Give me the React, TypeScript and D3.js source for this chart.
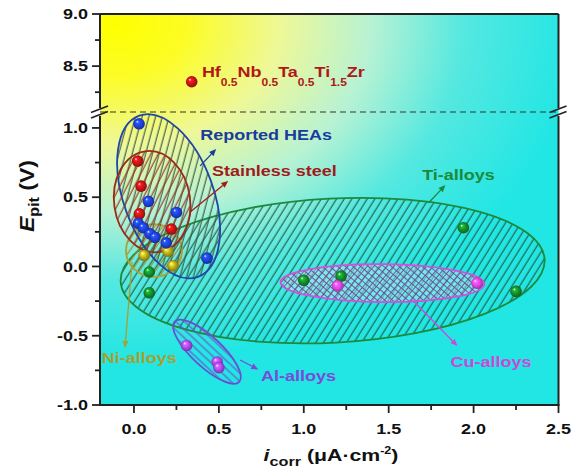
import React from 'react';
import * as d3 from 'd3';

const W = 577;
const H = 475;

// Axis ticks
const xTicksMajor = [0, 0.5, 1.0, 1.5, 2.0, 2.5];
const xTicksMinor = [0.25, 0.75, 1.25, 1.75, 2.25];
const yLowMajor = [-1.0, -0.5, 0.0, 0.5, 1.0];
const yLowMinor = [-0.75, -0.25, 0.25, 0.75];
const yHighMajor = [8.5, 9.0];
const yHighMinor = [8.25, 8.75];

// [i_corr (µA·cm^-2), E_pit (V)] per alloy family
const heaPoints = [[0.03, 1.03], [0.085, 0.47], [0.25, 0.39], [0.026, 0.31], [0.055, 0.28], [0.095, 0.235], [0.124, 0.21], [0.19, 0.17], [0.43, 0.06]];
const steelPoints = [[0.022, 0.76], [0.042, 0.58], [0.032, 0.38], [0.22, 0.27]];
const niPoints = [[0.06, 0.08], [0.2, 0.11], [0.23, 0.005]];
const tiPoints = [[0.09, -0.04], [0.09, -0.19], [1.0, -0.10], [1.22, -0.07], [1.94, 0.28], [2.25, -0.18]];
const cuPoints = [[1.2, -0.14], [2.02, -0.12]];
const alPoints = [[0.31, -0.57], [0.49, -0.69], [0.5, -0.73]];
const hfPoint = [0.34, 8.35];

// Scales: broken y axis with a lower and an upper segment
const x = d3.scaleLinear().domain([-0.2, 2.5]).range([100, 558.5]);
const yLow = d3.scaleLinear().domain([-1.0, 1.115]).range([405, 112]);
const yHigh = d3.scaleLinear().domain([8.06, 9.0]).range([112, 14]);

const PLOT = { left: 100, right: 558.5, top: 14, bottom: 405, brk: 112 };
const FONT = "'Liberation Sans', Arial, Helvetica, sans-serif";
const SX = 1.2;

const palette = {
  hea: { ball: '#1d3fd8', line: '#1f45a8', text: '#1a3c9c', hatch: '#3a5444' },
  steel: { ball: '#c41414', line: '#9a2a1a', text: '#a01c1c', hatch: '#9a3020' },
  ni: { ball: '#b0a41a', line: '#b0a030', text: '#a8a030', hatch: '#9a8a22' },
  ti: { ball: '#14892a', line: '#1b8a3c', text: '#1a8a3a', hatch: '#1e5a40' },
  cu: { ball: '#e044e4', line: '#d050e0', text: '#cc48d8', hatch: '#6a4a90' },
  al: { ball: '#a448ec', line: '#6a50d0', text: '#7a4ad8', hatch: '#6a50c8' },
};

// Highlighted regions, centre and semi-axes in data units, tilt in degrees
const regions = [
  { key: 'ti', cx: 1.17, cy: -0.03, rx: 1.25, ry: 0.52, rot: -3, fill: 'url(#hatch-ti)' },
  { key: 'cu', cx: 1.463, cy: -0.12, rx: 0.6, ry: 0.137, rot: 0.5, fill: 'url(#hatch-cu)' },
  { key: 'al', cx: 0.43, cy: -0.615, rx: 0.26, ry: 0.108, rot: 43, fill: 'url(#hatch-al)' },
  { key: 'ni', cx: 0.118, cy: 0.115, rx: 0.165, ry: 0.19, rot: 0, fill: 'url(#hatch-ni)' },
  { key: 'hea', cx: 0.204, cy: 0.507, rx: 0.265, ry: 0.619, rot: -20, fill: 'url(#hatch-hea)' },
  { key: 'steel', cx: 0.107, cy: 0.468, rx: 0.224, ry: 0.367, rot: -8, fill: 'url(#hatch-steel)' },
];

const labels = [
  { key: 'hea', text: 'Reported HEAs', x: 0.39, y: 0.913 },
  { key: 'steel', text: 'Stainless steel', x: 0.459, y: 0.65 },
  { key: 'ti', text: 'Ti-alloys', x: 1.697, y: 0.625 },
  { key: 'cu', text: 'Cu-alloys', x: 1.864, y: -0.728 },
  { key: 'al', text: 'Al-alloys', x: 0.748, y: -0.827 },
  { key: 'ni', text: 'Ni-alloys', x: -0.19, y: -0.695 },
];

const arrows = [
  { key: 'hea', from: [0.39, 0.726], to: [0.484, 0.848] },
  { key: 'steel', from: [0.331, 0.394], to: [0.555, 0.617] },
  { key: 'ti', from: [1.734, 0.458], to: [1.834, 0.588] },
  { key: 'cu', from: [1.64, -0.242], to: [1.905, -0.574] },
  { key: 'al', from: [0.625, -0.675], to: [0.732, -0.744] },
  { key: 'ni', from: [-0.011, 0.032], to: [-0.053, -0.588] },
];

function SText({ x, y, anchor = 'start', size = 15, fill = '#111', sx = SX, children }: any) {
  return (
    <g transform={`translate(${x},${y}) scale(${sx},1)`}>
      <text textAnchor={anchor} fontSize={size} fill={fill} fontWeight="bold" fontFamily={FONT}>
        {children}
      </text>
    </g>
  );
}

function Arrow({ x1, y1, x2, y2, color }: any) {
  const a = Math.atan2(y2 - y1, x2 - x1);
  const L = 7;
  const w = 3;
  const bx = x2 - L * Math.cos(a);
  const by = y2 - L * Math.sin(a);
  const pts = [
    [x2, y2],
    [bx - w * Math.sin(a), by + w * Math.cos(a)],
    [bx + w * Math.sin(a), by - w * Math.cos(a)],
  ];
  return (
    <g>
      <line x1={x1} y1={y1} x2={bx} y2={by} stroke={color} strokeWidth={1.3} />
      <polygon points={pts.map((p) => p.join(',')).join(' ')} fill={color} />
    </g>
  );
}

function Balls({ data, id, scale = yLow }: any) {
  return (
    <g>
      {data.map((d: number[], i: number) => (
        <circle key={i} cx={x(d[0])} cy={scale(d[1])} r={5.8} fill={`url(#ball-${id})`} />
      ))}
    </g>
  );
}

function shade(c: string, k: number) {
  const col = d3.color(c)!;
  return k > 0 ? col.brighter(k).formatHex() : col.darker(-k).formatHex();
}

export default function App() {
  const tickMajor = 8;
  const tickMinor = 5;
  const axisColor = '#222';

  return (
    <svg width={W} height={H} style={{ position: 'absolute', left: 0, top: 0, background: '#fff' }}>
      <defs>
        <radialGradient id="bg" gradientUnits="userSpaceOnUse" cx={115} cy={22} r={460}
          gradientTransform="translate(115,22) scale(1,0.74) translate(-115,-22)">
          <stop offset="0" stopColor="#ffff00" />
          <stop offset="0.16" stopColor="#fcfc26" />
          <stop offset="0.36" stopColor="#eef898" />
          <stop offset="0.56" stopColor="#b6f2d4" />
          <stop offset="0.76" stopColor="#54e8e0" />
          <stop offset="1" stopColor="#22e6e4" />
        </radialGradient>
        {Object.entries(palette).map(([k, p]) => (
          <radialGradient key={k} id={`ball-${k}`} cx="0.5" cy="0.5" r="0.55" fx="0.33" fy="0.3">
            <stop offset="0" stopColor="#ffffff" />
            <stop offset="0.22" stopColor={shade(p.ball, 0.9)} />
            <stop offset="0.6" stopColor={p.ball} />
            <stop offset="1" stopColor={shade(p.ball, -1.2)} />
          </radialGradient>
        ))}
        {(['ti', 'hea', 'steel', 'ni'] as const).map((k) => (
          <pattern key={k} id={`hatch-${k}`} width={6.5} height={6.5} patternUnits="userSpaceOnUse"
            patternTransform="rotate(35)">
            <line x1={3} y1={0} x2={3} y2={6.5} stroke={palette[k].hatch} strokeWidth={1.1} />
          </pattern>
        ))}
        <pattern id="hatch-cu" width={5} height={5} patternUnits="userSpaceOnUse" patternTransform="rotate(40)">
          <rect width={5} height={5} fill="rgba(210,235,255,0.45)" />
          <line x1={2.5} y1={0} x2={2.5} y2={5} stroke={palette.cu.hatch} strokeWidth={0.9} />
          <line x1={0} y1={2.5} x2={5} y2={2.5} stroke={palette.cu.hatch} strokeWidth={0.9} />
        </pattern>
        <pattern id="hatch-al" width={10} height={6} patternUnits="userSpaceOnUse">
          <line x1={0} y1={3} x2={10} y2={3} stroke={palette.al.hatch} strokeWidth={1.1} />
        </pattern>
      </defs>

      {/* plot background */}
      <rect x={PLOT.left} y={PLOT.top} width={PLOT.right - PLOT.left} height={PLOT.bottom - PLOT.top} fill="url(#bg)" />

      {/* shaded regions */}
      {regions.map((r) => {
        const cx = x(r.cx);
        const cy = yLow(r.cy);
        const rx = x(r.cx + r.rx) - x(r.cx);
        const ry = yLow(r.cy) - yLow(r.cy + r.ry);
        const color = (palette as any)[r.key].line;
        return (
          <ellipse key={r.key} cx={cx} cy={cy} rx={rx} ry={ry} transform={`rotate(${r.rot},${cx},${cy})`}
            fill={r.fill} stroke={color} strokeWidth={1.8} />
        );
      })}

      {/* axis break line */}
      <line x1={PLOT.left} x2={PLOT.right} y1={PLOT.brk} y2={PLOT.brk} stroke="#333" strokeWidth={1.2} strokeDasharray="6 4" />

      {/* data */}
      <Balls data={tiPoints} id="ti" />
      <Balls data={cuPoints} id="cu" />
      <Balls data={alPoints} id="al" />
      <Balls data={niPoints} id="ni" />
      <Balls data={steelPoints} id="steel" />
      <Balls data={heaPoints} id="hea" />
      <Balls data={[hfPoint]} id="steel" scale={yHigh} />

      {/* arrows and labels */}
      {arrows.map((a) => (
        <Arrow key={a.key} x1={x(a.from[0])} y1={yLow(a.from[1])} x2={x(a.to[0])} y2={yLow(a.to[1])}
          color={(palette as any)[a.key].text} />
      ))}
      {labels.map((l) => (
        <SText key={l.key} x={x(l.x)} y={yLow(l.y)} fill={(palette as any)[l.key].text} size={15}>
          {l.text}
        </SText>
      ))}
      <SText x={x(0.4)} y={yHigh(8.397)} fill="#b01818" size={15}>
        <tspan>Hf</tspan>
        <tspan fontSize={10} dy={9}>0.5</tspan>
        <tspan dy={-9}>Nb</tspan>
        <tspan fontSize={10} dy={9}>0.5</tspan>
        <tspan dy={-9}>Ta</tspan>
        <tspan fontSize={10} dy={9}>0.5</tspan>
        <tspan dy={-9}>Ti</tspan>
        <tspan fontSize={10} dy={9}>1.5</tspan>
        <tspan dy={-9}>Zr</tspan>
      </SText>

      {/* frame */}
      <line x1={PLOT.left} x2={PLOT.right} y1={PLOT.top} y2={PLOT.top} stroke={axisColor} strokeWidth={2} />
      <line x1={PLOT.right} x2={PLOT.right} y1={PLOT.top} y2={PLOT.brk - 4} stroke={axisColor} strokeWidth={2} />
      <line x1={PLOT.right} x2={PLOT.right} y1={PLOT.brk + 4} y2={PLOT.bottom} stroke={axisColor} strokeWidth={2} />
      <line x1={PLOT.left} x2={PLOT.left} y1={PLOT.top} y2={PLOT.brk - 4} stroke={axisColor} strokeWidth={2} />
      <line x1={PLOT.left} x2={PLOT.left} y1={PLOT.brk + 4} y2={PLOT.bottom} stroke={axisColor} strokeWidth={2} />
      <line x1={PLOT.left - 1} x2={PLOT.right + 1} y1={PLOT.bottom} y2={PLOT.bottom} stroke={axisColor} strokeWidth={2} />

      {/* break marks */}
      {[PLOT.left, PLOT.right].map((bx) => (
        <g key={bx} stroke={axisColor} strokeWidth={1.6}>
          <line x1={bx - 9} y1={PLOT.brk + 0.5} x2={bx + 8} y2={PLOT.brk - 6} />
          <line x1={bx - 9} y1={PLOT.brk + 6} x2={bx + 8} y2={PLOT.brk - 0.5} />
        </g>
      ))}

      {/* x axis ticks */}
      {xTicksMajor.map((t) => (
        <g key={`xM${t}`}>
          <line x1={x(t)} x2={x(t)} y1={PLOT.bottom} y2={PLOT.bottom + tickMajor} stroke={axisColor} strokeWidth={1.8} />
          <SText x={x(t)} y={434} anchor="middle" size={15}>{t.toFixed(1)}</SText>
        </g>
      ))}
      {xTicksMinor.map((t) => (
        <line key={`xm${t}`} x1={x(t)} x2={x(t)} y1={PLOT.bottom} y2={PLOT.bottom + tickMinor} stroke={axisColor} strokeWidth={1.8} />
      ))}

      {/* y axis ticks, lower segment */}
      {yLowMajor.map((t) => (
        <g key={`yM${t}`}>
          <line x1={PLOT.left - tickMajor} x2={PLOT.left} y1={yLow(t)} y2={yLow(t)} stroke={axisColor} strokeWidth={1.8} />
          <SText x={88} y={yLow(t) + 5.3} anchor="end" size={15}>{t.toFixed(1)}</SText>
        </g>
      ))}
      {yLowMinor.map((t) => (
        <line key={`ym${t}`} x1={PLOT.left - tickMinor} x2={PLOT.left} y1={yLow(t)} y2={yLow(t)} stroke={axisColor} strokeWidth={1.8} />
      ))}
      {/* y axis ticks, upper segment */}
      {yHighMajor.map((t) => (
        <g key={`yHM${t}`}>
          <line x1={PLOT.left - tickMajor} x2={PLOT.left} y1={yHigh(t)} y2={yHigh(t)} stroke={axisColor} strokeWidth={1.8} />
          <SText x={88} y={yHigh(t) + 5.3} anchor="end" size={15}>{t.toFixed(1)}</SText>
        </g>
      ))}
      {yHighMinor.map((t) => (
        <line key={`yHm${t}`} x1={PLOT.left - tickMinor} x2={PLOT.left} y1={yHigh(t)} y2={yHigh(t)} stroke={axisColor} strokeWidth={1.8} />
      ))}

      {/* axis titles */}
      <SText x={331} y={461} anchor="middle" size={17} sx={1.25}>
        <tspan fontStyle="italic">i</tspan>
        <tspan fontSize={13} dy={5}>corr</tspan>
        <tspan dy={-5}> (μA·cm</tspan>
        <tspan fontSize={10} dy={-7}>-2</tspan>
        <tspan dy={7}>)</tspan>
      </SText>
      <g transform="translate(34,196) rotate(-90)">
        <SText x={0} y={0} anchor="middle" size={20} sx={1.15}>
          <tspan fontStyle="italic">E</tspan>
          <tspan fontSize={14} dy={5}>pit</tspan>
          <tspan dy={-5}> (V)</tspan>
        </SText>
      </g>
    </svg>
  );
}
